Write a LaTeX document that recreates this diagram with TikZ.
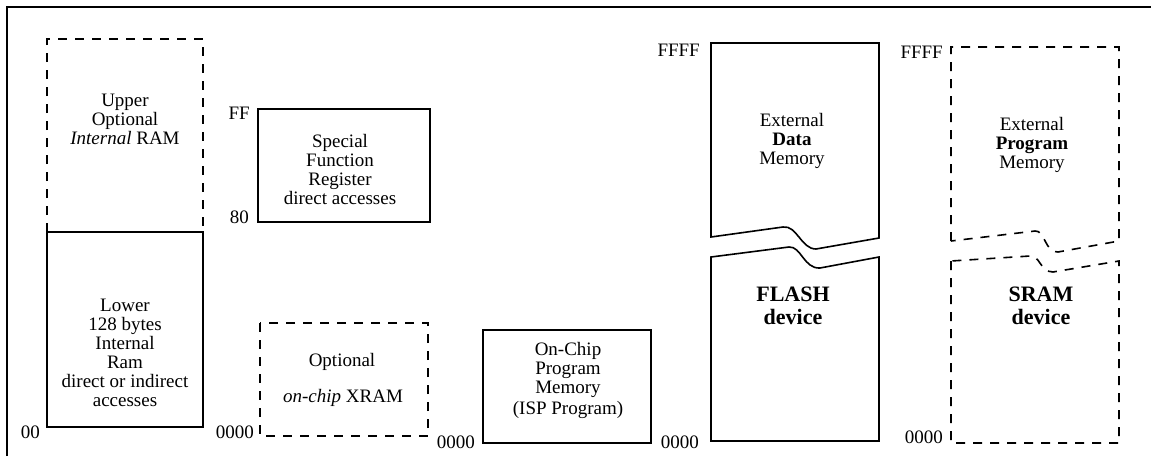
\documentclass[tikz,border=0pt]{standalone}
\usepackage{fontspec}
\setmainfont{Liberation Serif}
\begin{document}
\begin{tikzpicture}[x=1pt,y=-1pt,
  solidline/.style={line width=1.6pt, line join=miter},
  dashline/.style={line width=1.6pt, dash pattern=on 9pt off 8pt},
  txt/.style={font=\fontsize{19}{19}\selectfont, align=center, inner sep=0pt},
  bigtxt/.style={font=\fontsize{22}{23}\selectfont\bfseries, align=center, inner sep=0pt},
  addr/.style={font=\fontsize{19}{19}\selectfont, inner sep=0pt, anchor=east}]
\useasboundingbox (0,0) rectangle (1151,456);

% frame
\draw[line width=2pt] (7,456) -- (7,7) -- (1151,7);

% internal RAM
\draw[dashline] (47,232) -- (47,39) -- (203,39) -- (203,232);
\draw[solidline] (47,232) rectangle (203,427);
\node[txt] (upper) at (125,119) {Upper\\Optional\\\textit{Internal} RAM};
\node[txt] (lower) at (125,353) {Lower\\128 bytes\\Internal\\Ram\\direct or indirect\\accesses};
\node[addr] (a00) at (40,432) {00};

% SFR
\draw[solidline] (258,109) rectangle (430,222);
\node[txt] (sfr) at (340,169) {Special\\Function\\Register\\direct accesses};
\node[addr] (aFF) at (250,113) {FF};
\node[addr] (a80) at (249,217) {80};

% XRAM
\draw[dashline] (260,323) rectangle (428,436);
\node[txt] (xopt) at (342,362) {Optional};
\node[txt] (xram) at (343,398) {\textit{on-chip} XRAM};
\node[addr] (ax0) at (254,432) {0000};

% on-chip program memory
\draw[solidline] (483,330) rectangle (651,443);
\node[txt] (ocp) at (568,370) {On-Chip\\Program\\Memory};
\node[txt] (isp) at (568,410) {(ISP Program)};
\node[addr] (ao0) at (475,442) {0000};

% FLASH device
\draw[solidline] (711,237) -- (711,43) -- (879,43) -- (879,238) -- (816,249)
  .. controls (801,249) and (797,225) .. (783,227) -- cycle;
\draw[solidline] (711,257) -- (711,441) -- (879,441) -- (879,257) -- (820,268)
  .. controls (804,269) and (801,246) .. (789,247) -- cycle;
\node[txt] (edm) at (792,141) {External\\\textbf{Data}\\Memory};
\node[bigtxt] (flash) at (793,306) {FLASH\\device};
\node[addr] (afF) at (700,50) {FFFF};
\node[addr] (af0) at (699,442) {0000};

% SRAM device
\draw[dashline] (951,241) -- (951,47) -- (1119,47) -- (1119,241) -- (1058,252)
  .. controls (1045,253) and (1045,230) .. (1035,231) -- cycle;
\draw[dashline] (951,261) -- (951,443) -- (1119,443) -- (1119,261) -- (1053,272)
  .. controls (1040,272) and (1040,255) .. (1030,256) -- cycle;
\node[txt] (epm) at (1032,145) {External\\\textbf{Program}\\Memory};
\node[bigtxt] (sram) at (1041,306) {SRAM\\device};
\node[addr] (asF) at (943,52) {FFFF};
\node[addr] (as0) at (943,437) {0000};
\end{tikzpicture}
\end{document}
